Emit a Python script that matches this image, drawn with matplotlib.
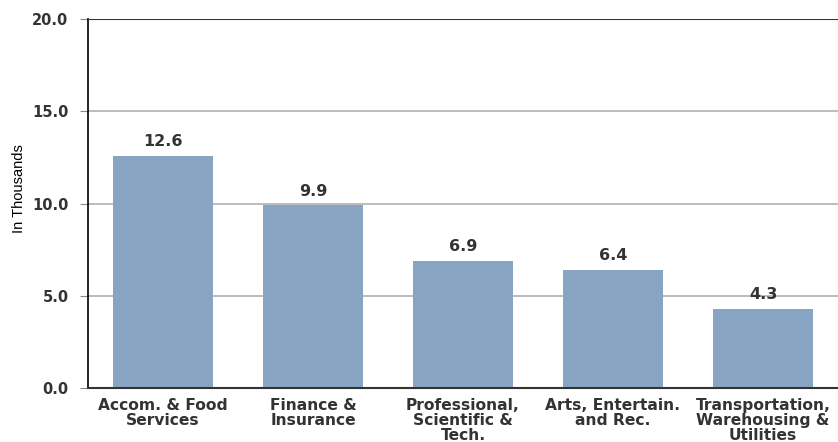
import matplotlib.pyplot as plt

categories = ["Accom. & Food\nServices", "Finance &\nInsurance",
              "Professional,\nScientific &\nTech.", "Arts, Entertain.\nand Rec.",
              "Transportation,\nWarehousing &\nUtilities"]
values = [12.6, 9.9, 6.9, 6.4, 4.3]
yticks = [0.0, 5.0, 10.0, 15.0, 20.0]

fig = plt.figure(figsize=(8.38, 4.42), dpi=100)
ax = fig.add_axes([88 / 838, 1 - 388 / 442, 750 / 838, 369 / 442])

x = list(range(len(values)))
ax.bar(x, values, width=0.67, color="#87a5c3", zorder=2)
for xi, v in zip(x, values):
    ax.text(xi, v + 0.35, f"{v:.1f}", ha="center", va="bottom",
            fontsize=11.5, fontweight="bold", color="#333333", family="DejaVu Sans")

ax.set_xlim(-0.5, 4.5)
ax.set_ylim(0, 20)
ax.set_yticks(yticks)
ax.set_yticklabels([f"{t:.1f}" for t in yticks], fontsize=10.5, fontweight="bold",
                   color="#333333", family="DejaVu Sans")
ax.set_xticks(x)
ax.set_xticklabels(categories, fontsize=11.2, fontweight="bold", color="#333333",
                   family="DejaVu Sans", linespacing=1.02)
ax.tick_params(axis="x", length=0, pad=7)
ax.tick_params(axis="y", length=6, width=0.8, color="#888888", pad=8)
ax.yaxis.grid(True, color="#b0b0b0", linewidth=1.2, zorder=0)
ax.axhline(20, color="#333333", linewidth=1.5, zorder=3)

for s in ["top", "right"]:
    ax.spines[s].set_visible(False)
ax.spines["left"].set_linewidth(1.2)
ax.spines["bottom"].set_linewidth(1.5)
ax.spines["bottom"].set_color("#333333")

ax.set_ylabel("In Thousands", fontsize=10.5, family=["Liberation Sans", "DejaVu Sans"])
ax.yaxis.set_label_coords(-0.083, 0.54)

fig.savefig("out.png", dpi=100)
